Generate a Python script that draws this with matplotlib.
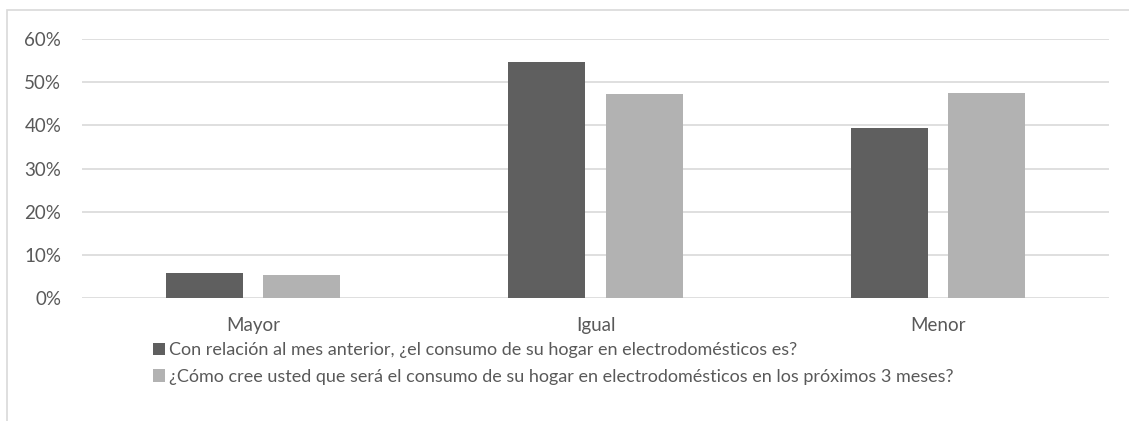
#!/usr/bin/env python3
import numpy as np
import matplotlib
matplotlib.use('Agg')
import matplotlib.pyplot as plt
from matplotlib.patches import Rectangle

categories = ['Mayor', 'Igual', 'Menor']
series_names = ['Con relación al mes anterior, ¿el consumo de su hogar en electrodomésticos es?',
                '¿Cómo cree usted que será el consumo de su hogar en electrodomésticos en los próximos 3 meses?']
anterior = [5.7, 54.7, 39.4]
proximos = [5.3, 47.3, 47.5]
yticks = [0, 10, 20, 30, 40, 50, 60]

plt.rcParams['font.family'] = ['Lato', 'DejaVu Sans']
text_col = '#595959'

W, H = 1129, 421
fig = plt.figure(figsize=(W/100, H/100), dpi=100)
# Axes placed in pixel terms
x0, x1, ytop, ybot = 82, 1109, 39, 298
ax = fig.add_axes([x0/W, (H-ybot)/H, (x1-x0)/W, (ybot-ytop)/H])

x = np.arange(len(categories))
width = 0.225
off = 0.142
ax.bar(x - off, anterior, width, color='#5f5f5f', zorder=3, label=series_names[0])
ax.bar(x + off, proximos, width, color='#b2b2b2', zorder=3, label=series_names[1])

ax.set_xlim(-0.5, 2.5)
ax.set_ylim(0, 60)
ax.set_yticks(yticks)
ax.set_yticklabels(['%d%%' % v for v in yticks])
ax.set_xticks(x)
ax.set_xticklabels(categories)
ax.tick_params(axis='both', length=0, labelsize=13.5, colors=text_col)
ax.tick_params(axis='y', pad=15)
ax.tick_params(axis='x', pad=13.5)
ax.grid(axis='y', color='#d9d9d9', lw=1.2, zorder=0)
for s in ax.spines.values():
    s.set_visible(False)

# Outer chart-area border (top and left visible)
fig.patches.append(Rectangle((7/W, -0.05), 1.1, 1.05 - 9.5/H, transform=fig.transFigure,
                             fill=False, edgecolor='#d9d9d9', lw=1.2))

handles, labels = ax.get_legend_handles_labels()
leg = fig.legend(handles, labels, loc='upper left', bbox_to_anchor=(153/W, 1 - 342/H),
                 frameon=False, fontsize=13, handlelength=0.65, handleheight=0.65,
                 handletextpad=0.25, labelspacing=0.6, borderpad=0, borderaxespad=0)
for t in leg.get_texts():
    t.set_color(text_col)

fig.savefig('out.png', dpi=100)
